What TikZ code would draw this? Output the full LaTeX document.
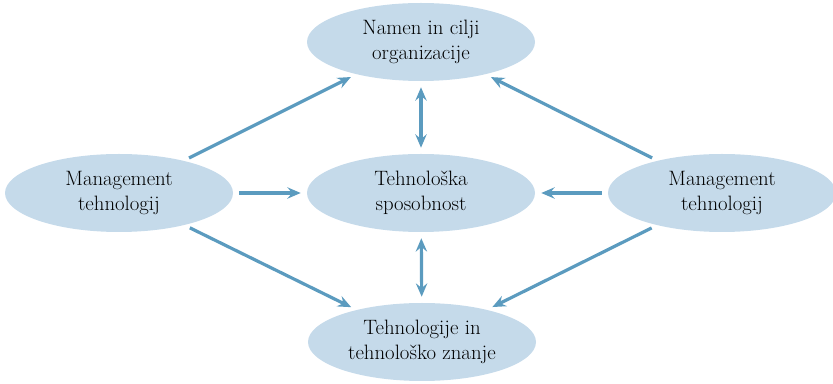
\documentclass[tikz,border=0pt]{standalone}
\usepackage{amsmath,amssymb}
\usepackage{tikz}
\usetikzlibrary{shapes.geometric,arrows.meta}

\definecolor{bubble}{HTML}{C5DAEA}
\definecolor{arrowblue}{HTML}{5B9BBF}

\begin{document}
\begin{tikzpicture}[x=0.75pt, y=-0.75pt,
  goal/.style={ellipse, fill=bubble, minimum width=171pt, minimum height=58.5pt,
    inner sep=0pt, align=center, text=black, font=\fontsize{15.6}{18.75}\selectfont},
  link/.style={draw=arrowblue, line width=2.4pt, shorten <=4.5pt, shorten >=4.5pt,
    -{Stealth[length=10pt, width=8.5pt, inset=3.5pt]}}]
  \useasboundingbox (0,0) rectangle (833,384);
  \node[goal] (N) at (421,42) {Namen in cilji\\organizacije};
  \node[goal] (T) at (421,193) {Tehnološka\\sposobnost};
  \node[goal] (L) at (119,193) {Management\\tehnologij};
  \node[goal] (R) at (722,193) {Management\\tehnologij};
  \node[goal] (K) at (422,342) {Tehnologije in\\tehnološko znanje};
  \draw[link] (L) to (T);
  \draw[link] (R) to (T);
  \draw[link] (L) to (N);
  \draw[link] (L) to (K);
  \draw[link] (R) to (N);
  \draw[link] (R) to (K);
  \draw[link, {Stealth[length=10pt, width=8.5pt, inset=3.5pt]}-{Stealth[length=10pt, width=8.5pt, inset=3.5pt]}] (T) to (N);
  \draw[link, {Stealth[length=10pt, width=8.5pt, inset=3.5pt]}-{Stealth[length=10pt, width=8.5pt, inset=3.5pt]}] (T) to (K);
\end{tikzpicture}
\end{document}
